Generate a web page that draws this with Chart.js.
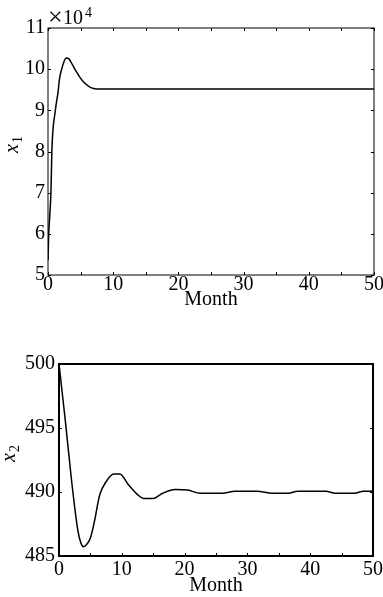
<!DOCTYPE html>
<html>
<head>
<meta charset="utf-8">
<script src="https://cdn.jsdelivr.net/npm/chart.js@4.4.0/dist/chart.umd.min.js"></script>
<style>
  body { margin: 0; background: #fff; }
  .box { position: absolute; left: 0; width: 383px; }
  #top { top: 0; height: 320px; }
  #bottom { top: 320px; height: 277px; }
</style>
</head>
<body>
<div class="box" id="top"><canvas id="x1Chart" width="383" height="320"></canvas></div>
<div class="box" id="bottom"><canvas id="x2Chart" width="383" height="277"></canvas></div>
<script>
// x1 is plotted in units of 10^4
const x1Months = [0, 0.1, 0.25, 0.45, 0.6, 0.8, 1.0, 1.3, 1.55, 1.75, 2.1, 2.45, 2.8, 3.2, 3.7, 4.3, 4.9, 5.5, 6.1, 6.6, 7.0, 7.4, 10, 20, 30, 40, 50];
const x1Values = [5.36, 5.95, 6.4, 7.0, 8.05, 8.6, 8.85, 9.2, 9.45, 9.75, 10.0, 10.18, 10.27, 10.25, 10.12, 9.95, 9.8, 9.68, 9.6, 9.55, 9.53, 9.52, 9.52, 9.52, 9.52, 9.52, 9.52];

const x2Months = [0, 0.5, 1, 2, 3, 3.5, 3.9, 4.4, 5, 5.6, 6.5, 7.5, 8.7, 9.7, 11, 12.5, 13.5, 15, 16.5, 18.5, 20.5, 22.5, 26, 28, 31.5, 34, 36.5, 38, 42.5, 44, 47, 48.5, 50];
const x2Values = [500, 497.8, 495.6, 490.9, 487.0, 486.0, 485.73, 485.9, 486.4, 487.6, 489.8, 490.8, 491.4, 491.4, 490.6, 489.8, 489.5, 489.5, 489.9, 490.2, 490.15, 489.9, 489.9, 490.05, 490.05, 489.9, 489.9, 490.05, 490.05, 489.9, 489.9, 490.05, 490.05];

const monthTicks = [0, 10, 20, 30, 40, 50];
const monthMinorTicks = [0, 5, 10, 15, 20, 25, 30, 35, 40, 45, 50];
const x1Ticks = [5, 6, 7, 8, 9, 10, 11];
const x2Ticks = [485, 490, 495, 500];

const FONT = '"Liberation Serif", "Times New Roman", serif';

function toPoints(xs, ys) {
    return xs.map((x, i) => ({ x: x, y: ys[i] }));
}

// box round the plot, inward tick marks, rotated y title, exponent
const framePlugin = {
    id: 'frame',
    afterDraw(chart, args, o) {
        const { ctx, chartArea: a, scales } = chart;
        ctx.save();
        ctx.strokeStyle = '#000';
        ctx.lineWidth = o.lineWidth;
        ctx.strokeRect(a.left, a.top, a.right - a.left, a.bottom - a.top);

        ctx.lineWidth = 1;
        ctx.beginPath();
        monthMinorTicks.forEach(v => {
            const px = Math.round(scales.x.getPixelForValue(v)) + 0.5;
            ctx.moveTo(px, a.bottom);
            ctx.lineTo(px, a.bottom - o.tick);
            if (o.topTicks) {
                ctx.moveTo(px, a.top);
                ctx.lineTo(px, a.top + o.tick);
            }
        });
        scales.y.ticks.forEach(t => {
            const py = Math.round(scales.y.getPixelForValue(t.value)) + 0.5;
            ctx.moveTo(a.left, py);
            ctx.lineTo(a.left + o.tick, py);
            ctx.moveTo(a.right, py);
            ctx.lineTo(a.right - o.tick, py);
        });
        ctx.stroke();

        ctx.fillStyle = '#000';
        ctx.textAlign = 'left';
        ctx.textBaseline = 'alphabetic';

        if (o.exponent) {
            ctx.font = '26px ' + FONT;
            ctx.fillText('\u00d7', 48, 25);
            ctx.font = '20px ' + FONT;
            ctx.fillText('10', 63, 24);
            ctx.font = '14px ' + FONT;
            ctx.fillText(o.exponent, 85, 17);
        }

        ctx.translate(0, o.titleY);
        ctx.rotate(-Math.PI / 2);
        ctx.font = 'italic 20px ' + FONT;
        ctx.fillText('x', 0, o.titleX);
        const w = ctx.measureText('x').width;
        ctx.font = '14px ' + FONT;
        ctx.fillText(o.sub, w + 1, o.titleX + 4);
        ctx.restore();
    }
};

function makeChart(id, months, values, yTicks, cfg) {
    const ctx = document.getElementById(id).getContext('2d');
    return new Chart(ctx, {
        type: 'line',
        data: {
            datasets: [{
                data: toPoints(months, values),
                borderColor: '#000',
                borderWidth: 1.5,
                pointRadius: 0,
                fill: false,
                cubicInterpolationMode: 'monotone'
            }]
        },
        options: {
            responsive: false,
            animation: false,
            layout: { padding: { left: 0, top: cfg.top, right: cfg.right, bottom: 0 } },
            plugins: {
                legend: { display: false },
                tooltip: { enabled: false },
                frame: cfg.frame
            },
            scales: {
                x: {
                    type: 'linear',
                    min: 0,
                    max: 50,
                    grid: { display: false, drawTicks: false },
                    border: { display: false },
                    afterBuildTicks: scale => { scale.ticks = monthTicks.map(v => ({ value: v })); },
                    afterFit: scale => {
                        scale.height = cfg.xHeight;
                        scale.paddingLeft = 0;
                        scale.paddingRight = 0;
                    },
                    ticks: {
                        color: '#000',
                        font: { family: FONT, size: 20 },
                        padding: cfg.xPad,
                        maxRotation: 0
                    },
                    title: {
                        display: true,
                        text: 'Month',
                        color: '#000',
                        font: { family: FONT, size: 20, lineHeight: 1 },
                        padding: { top: 0, bottom: cfg.titlePad }
                    }
                },
                y: {
                    min: yTicks[0],
                    max: yTicks[yTicks.length - 1],
                    grid: { display: false, drawTicks: false },
                    border: { display: false },
                    afterBuildTicks: scale => { scale.ticks = yTicks.map(v => ({ value: v })); },
                    afterFit: scale => {
                        scale.width = cfg.yWidth;
                        scale.paddingTop = 0;
                        scale.paddingBottom = 0;
                    },
                    ticks: {
                        color: '#000',
                        font: { family: FONT, size: 20 },
                        padding: cfg.yPad
                    }
                }
            }
        },
        plugins: [framePlugin]
    });
}

makeChart('x1Chart', x1Months, x1Values, x1Ticks, {
    top: 28, right: 9, xHeight: 45, yWidth: 48, xPad: -2, yPad: 3, titlePad: 10,
    frame: { lineWidth: 1, tick: 3, topTicks: true, titleX: 18, titleY: 153, sub: '1', exponent: '4' }
});

makeChart('x2Chart', x2Months, x2Values, x2Ticks, {
    top: 44, right: 10, xHeight: 41, yWidth: 59, xPad: 2, yPad: 4, titlePad: 1,
    frame: { lineWidth: 2, tick: 3, topTicks: false, titleX: 15, titleY: 142, sub: '2' }
});
</script>
</body>
</html>
